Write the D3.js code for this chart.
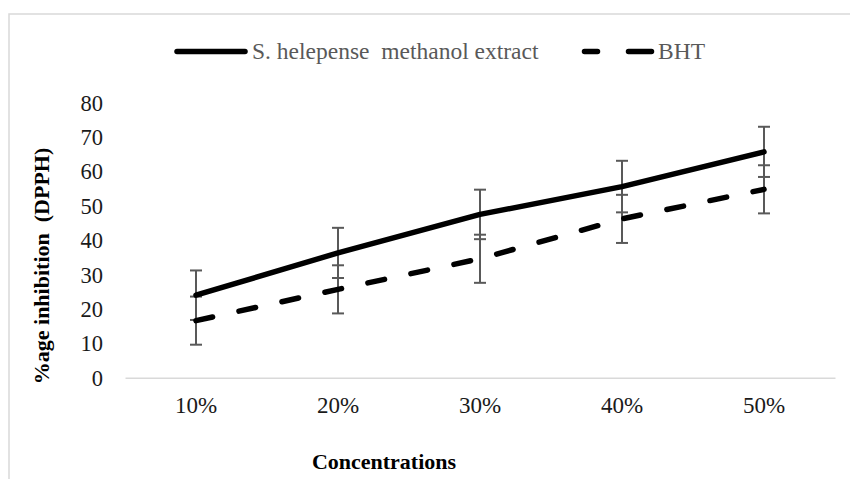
<!DOCTYPE html>
<html>
<head>
<meta charset="utf-8">
<script src="https://cdn.jsdelivr.net/npm/d3@7"></script>
<style>
  html, body { margin: 0; padding: 0; background: #fff; }
  svg { display: block; }
  text { font-family: "Liberation Serif", "Times New Roman", serif; }
</style>
</head>
<body>
<svg id="chart" width="850" height="479"></svg>
<script>
// Concentrations tested and % inhibition (DPPH), with error bar half-widths
const categories = ["10%", "20%", "30%", "40%", "50%"];
const extractValues = [24.0, 36.3, 47.5, 55.6, 65.7];
const extractErrors = [7.2, 7.3, 7.2, 7.5, 7.3];
const bhtValues = [16.6, 25.7, 34.6, 46.2, 54.8];
const bhtErrors = [7.0, 7.0, 7.0, 7.0, 7.0];
const yTicks = [0, 10, 20, 30, 40, 50, 60, 70, 80];
const seriesNames = ["S. helepense  methanol extract", "BHT"];

const svg = d3.select("#chart");

// chart area frame
svg.append("rect")
  .attr("x", 9).attr("y", 14)
  .attr("width", 860).attr("height", 480)
  .attr("fill", "none")
  .attr("stroke", "#d9d9d9")
  .attr("stroke-width", 1.5);

const x = d3.scaleBand().domain(categories).range([125, 835]).padding(0);
const y = d3.scaleLinear().domain([0, 80]).range([377.7, 102.7]);
const cx = c => x(c) + x.bandwidth() / 2;

// y tick labels
const yAxis = d3.axisLeft(y).tickValues(yTicks).tickSize(0).tickPadding(0);
const gy = svg.append("g").attr("transform", "translate(103,0)").call(yAxis);
gy.select(".domain").remove();
gy.selectAll("text")
  .attr("font-family", "Liberation Serif, serif")
  .attr("font-size", 22.5)
  .attr("fill", "#1a1a1a")
  .attr("dy", "0.33em");

// x axis baseline and category labels
const xAxis = d3.axisBottom(x).tickSize(0).tickPadding(0);
const gx = svg.append("g").attr("transform", `translate(0,${y(0)})`).call(xAxis);
gx.select(".domain").attr("stroke", "#d9d9d9").attr("stroke-width", 1.5);
gx.selectAll("text")
  .attr("font-family", "Liberation Serif, serif")
  .attr("font-size", 23)
  .attr("fill", "#1a1a1a")
  .attr("y", 35.5)
  .attr("dy", 0);

// error bars
function errorBars(values, errors) {
  const g = svg.append("g").attr("stroke", "#595959").attr("stroke-width", 2).attr("fill", "none");
  categories.forEach((c, i) => {
    const xc = cx(c);
    const lo = y(values[i] - errors[i]);
    const hi = y(values[i] + errors[i]);
    g.append("line").attr("x1", xc).attr("x2", xc).attr("y1", lo).attr("y2", hi);
    g.append("line").attr("x1", xc - 6).attr("x2", xc + 6).attr("y1", lo).attr("y2", lo);
    g.append("line").attr("x1", xc - 6).attr("x2", xc + 6).attr("y1", hi).attr("y2", hi);
  });
}
errorBars(extractValues, extractErrors);
errorBars(bhtValues, bhtErrors);

const line = d3.line().x((d, i) => cx(categories[i])).y(d => y(d));

svg.append("path")
  .datum(bhtValues)
  .attr("d", line)
  .attr("fill", "none")
  .attr("stroke", "#000")
  .attr("stroke-width", 5.5)
  .attr("stroke-linecap", "round")
  .attr("stroke-dasharray", "17,27");

svg.append("path")
  .datum(extractValues)
  .attr("d", line)
  .attr("fill", "none")
  .attr("stroke", "#000")
  .attr("stroke-width", 5.5)
  .attr("stroke-linecap", "round")
  .attr("stroke-linejoin", "round");

// legend
const legend = svg.append("g");
legend.append("line")
  .attr("x1", 177).attr("x2", 245).attr("y1", 51.5).attr("y2", 51.5)
  .attr("stroke", "#000").attr("stroke-width", 5.5).attr("stroke-linecap", "round");
legend.append("text")
  .attr("x", 252).attr("y", 58.5)
  .attr("font-size", 23.5).attr("fill", "#595959")
  .style("white-space", "pre")
  .attr("xml:space", "preserve")
  .text(seriesNames[0]);
legend.append("line")
  .attr("x1", 584.5).attr("x2", 651.5).attr("y1", 51.5).attr("y2", 51.5)
  .attr("stroke", "#000").attr("stroke-width", 5.5).attr("stroke-linecap", "round")
  .attr("stroke-dasharray", "13,31,23");
legend.append("text")
  .attr("x", 658).attr("y", 58.5)
  .attr("font-size", 23.5).attr("fill", "#595959")
  .text(seriesNames[1]);

// axis titles
svg.append("text")
  .attr("x", 384).attr("y", 469)
  .attr("text-anchor", "middle")
  .attr("font-size", 22).attr("font-weight", "bold").attr("fill", "#000")
  .text("Concentrations");

svg.append("text")
  .attr("transform", "translate(49,266) rotate(-90)")
  .attr("text-anchor", "middle")
  .attr("font-size", 22).attr("font-weight", "bold").attr("fill", "#000")
  .style("white-space", "pre")
  .attr("xml:space", "preserve")
  .text("%age inhibition  (DPPH)");
</script>
</body>
</html>
